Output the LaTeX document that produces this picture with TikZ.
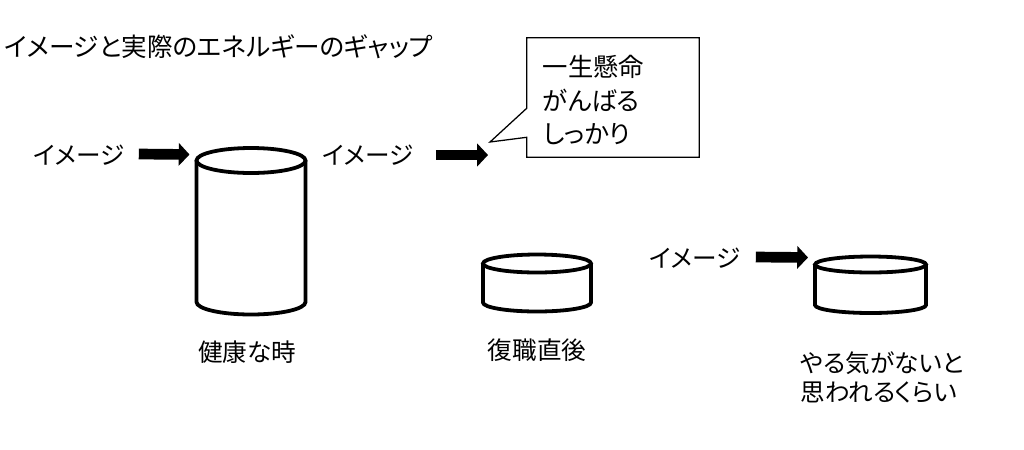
\documentclass[tikz,border=0pt]{standalone}
\usepackage{fontspec}
\setmainfont{Noto Sans CJK JP}[RawFeature=+palt]
\usetikzlibrary{arrows.meta, positioning, calc}

% cylinder: name, centre x, top y, bottom y, x radius, y radius
\newcommand\drum[6]{%
  \draw[drum] (#2,#3) ellipse [x radius=#5, y radius=#6];
  \draw[drum] (#2-#5,#3) -- (#2-#5,#4)
    arc[start angle=180, end angle=360, x radius=#5, y radius=#6] -- (#2+#5,#3);
  \coordinate (#1) at (#2-#5,#3);
}

\begin{document}
\begin{tikzpicture}[
  x=0.025cm, y=0.025cm,
  lbl/.style={inner sep=0pt, font=\fontsize{17.5}{23}\selectfont},
  bigarr/.style={-{Triangle[length=0.27cm, width=0.56cm]}, line width=7.6pt},
  drum/.style={line width=2.7pt},
  notebox/.style={minimum width=4.3cm, minimum height=2.975cm, inner sep=0pt},
  notebdr/.style={line width=0.9pt, line join=miter}
]
  \useasboundingbox (0,0) rectangle (1024,-449);

  % Title
  \node[lbl, anchor=west, font=\fontsize{18.2}{23}\selectfont] (title)
       at (4,-47) {イメージと実際のエネルギーのギャップ};

  % Healthy
  \node[lbl] (img1) at (79,-155) {イメージ};
  \drum{cylA}{251}{-160.5}{-302}{54.5}{12.5}
  \node[lbl] (healthy) at (247,-352) {健康な時};

  % Back at work
  \node[lbl] (img2) at (368,-155) {イメージ};
  \coordinate (tip) at (490,-142);
  \node[notebox] (note) at (613,-97.5) {};
  \node[lbl, align=left, anchor=west,
        font=\fontsize{18}{23.5}\selectfont] (notetxt)
       at ($(note.west)+(16,-2.5)$) {一生懸命\\がんばる\\しっかり};
  \drum{cylB}{537}{-263.5}{-302.5}{54}{9}
  \node[lbl] (back) at (537,-350) {復職直後};

  % Seen by others
  \node[lbl] (img3) at (695,-258) {イメージ};
  \drum{cylC}{870.5}{-264.5}{-305}{55.5}{8}
  \node[lbl, align=left, font=\fontsize{17.5}{20.6}\selectfont] (lazy)
       at (882,-377.5) {やる気がないと\\思われるくらい};

  % Callout outline
  \draw[notebdr] (note.north west) -- (note.north east) -- (note.south east)
    -- (note.south west) -- ($(note.south west)+(0,20)$) -- (tip)
    -- ($(note.south west)+(0,49)$) -- cycle;

  % Arrows
  \draw[bigarr] ($(img1.east)+(14,1)$) -- ($(cylA)+(-7,6)$);
  \draw[bigarr] ($(img2.east)+(22,0)$) -- ($(tip)+(-2,-13)$);
  \draw[bigarr] ($(img3.east)+(15,1)$) -- ($(cylC)+(-7,7)$);
\end{tikzpicture}
\end{document}
